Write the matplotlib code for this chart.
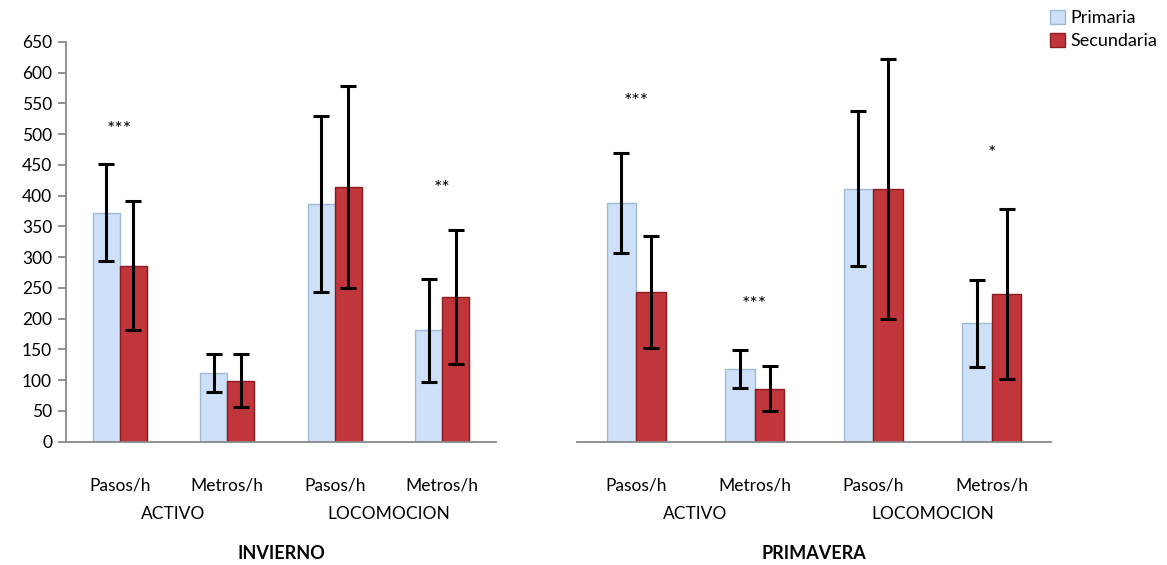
import matplotlib
matplotlib.use("Agg")
import matplotlib.pyplot as plt
from matplotlib.patches import Patch
import numpy as np

plt.rcParams['font.family'] = ['Lato', 'DejaVu Sans']

categories = ["Pasos/h", "Metros/h", "Pasos/h", "Metros/h"]
groups = ["ACTIVO", "LOCOMOCION"]
seasons = ["INVIERNO", "PRIMAVERA"]
series = ["Primaria", "Secundaria"]

# Invierno
inv_prim = [372, 111, 387, 181]
inv_prim_err = [79, 31, 143, 84]
inv_sec = [286, 99, 414, 235]
inv_sec_err = [105, 43, 164, 109]
inv_sig = ["***", "", "", "**"]
inv_sig_y = [508, 0, 0, 412]

# Primavera
pri_prim = [388, 118, 411, 192]
pri_prim_err = [82, 31, 126, 70]
pri_sec = [243, 86, 411, 240]
pri_sec_err = [91, 37, 211, 139]
pri_sig = ["***", "***", "", "*"]
pri_sig_y = [553, 223, 0, 469]

yticks = list(range(0, 651, 50))

c_prim = "#cde0f7"
e_prim = "#9fb8d6"
c_sec = "#c0363a"
e_sec = "#8a1c1f"

W, H = 1167, 565
fig = plt.figure(figsize=(W / 100, H / 100), dpi=100)

ax1 = fig.add_axes([66 / W, (H - 441.5) / H, (496 - 66) / W, 399.5 / H])
ax2 = fig.add_axes([577 / W, (H - 441.5) / H, (1051 - 577) / W, 399.5 / H])

fs = 12.5
data = [(ax1, inv_prim, inv_prim_err, inv_sec, inv_sec_err, inv_sig, inv_sig_y, seasons[0]),
        (ax2, pri_prim, pri_prim_err, pri_sec, pri_sec_err, pri_sig, pri_sig_y, seasons[1])]

x = np.arange(len(categories))
bw = 0.25
for ax, p, pe, s, se, sig, sigy, title in data:
    ax.bar(x - bw / 2, p, bw, color=c_prim, edgecolor=e_prim, linewidth=1.0, zorder=2)
    ax.bar(x + bw / 2, s, bw, color=c_sec, edgecolor=e_sec, linewidth=1.0, zorder=2)
    ax.errorbar(x - bw / 2, p, yerr=pe, fmt='none', ecolor='black', elinewidth=2.2,
                capsize=5.5, capthick=2.2, zorder=3)
    ax.errorbar(x + bw / 2, s, yerr=se, fmt='none', ecolor='black', elinewidth=2.2,
                capsize=5.5, capthick=2.2, zorder=3)
    for i, (t, yy) in enumerate(zip(sig, sigy)):
        if t:
            ax.text(x[i], yy, t, ha='center', va='center', fontsize=14)
    ax.set_xlim(-0.5, 3.5)
    ax.set_ylim(0, 650)
    ax.set_xticks(x)
    ax.set_xticklabels(categories, fontsize=fs)
    ax.tick_params(axis='x', length=0, pad=26)
    for sp in ['top', 'right']:
        ax.spines[sp].set_visible(False)
    ax.spines['bottom'].set_color('#888888')
    ax.spines['bottom'].set_linewidth(1.3)
    trans = ax.get_xaxis_transform()
    ax.text(0.5, -0.181, groups[0], transform=trans, ha='center', va='center', fontsize=fs)
    ax.text(2.5, -0.181, groups[1], transform=trans, ha='center', va='center', fontsize=fs)
    ax.text(1.5, -0.28, title, transform=trans, ha='center', va='center', fontsize=13,
            fontweight='bold')

ax1.set_yticks(yticks)
ax1.set_yticklabels([str(v) for v in yticks], fontsize=fs)
ax1.spines['left'].set_color('#888888')
ax1.spines['left'].set_linewidth(1.3)
ax1.tick_params(axis='y', length=6, width=1.3, color='#888888', pad=4)

ax2.spines['left'].set_visible(False)
ax2.set_yticks([])

handles = [Patch(facecolor=c_prim, edgecolor=e_prim, label=series[0]),
           Patch(facecolor=c_sec, edgecolor=e_sec, label=series[1])]
fig.legend(handles=handles, loc='upper left', bbox_to_anchor=(1043 / W, 1 - 3 / H),
           frameon=False, fontsize=13, handlelength=0.8, handleheight=0.8,
           handletextpad=0.3, labelspacing=0.35, borderaxespad=0)

fig.savefig("out.png", dpi=100)
